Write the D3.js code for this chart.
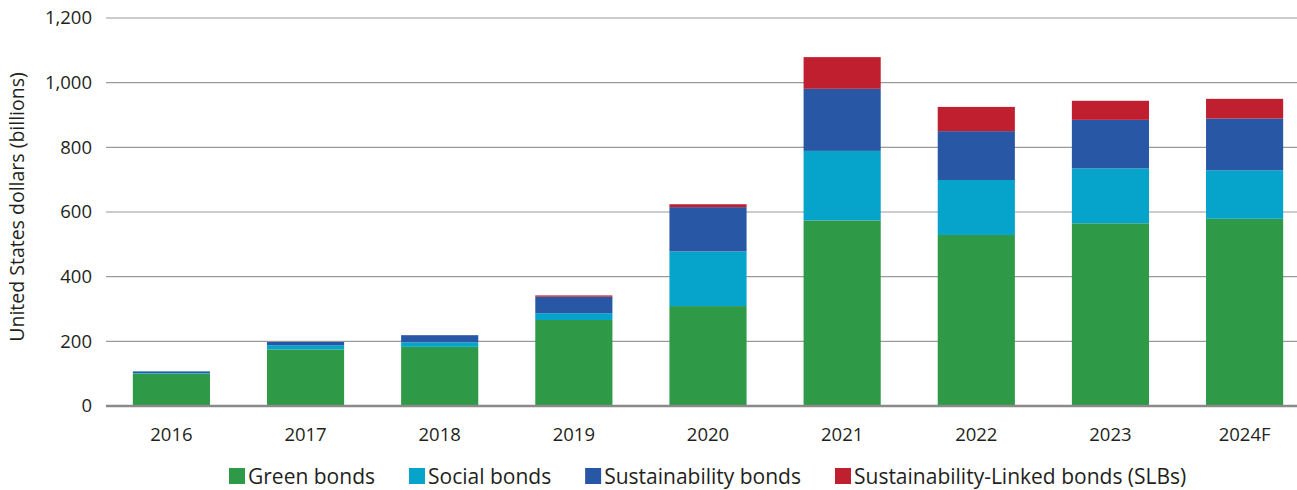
<!DOCTYPE html>
<html>
<head>
<meta charset="utf-8">
<script src="https://cdn.jsdelivr.net/npm/d3@7"></script>
<style>
  body { margin: 0; background: #fff; }
  svg { display: block; font-family: "Open Sans", "Noto Sans", sans-serif; }
</style>
</head>
<body>
<div id="chart"></div>
<script>
// values, billions of USD
const years = ["2016", "2017", "2018", "2019", "2020", "2021", "2022", "2023", "2024F"];
const green = [100, 175, 183, 266, 309, 574, 529, 565, 579];
const social = [2, 13, 14, 21, 169, 215, 170, 170, 150];
const sustainability = [5, 10, 22, 51, 137, 192, 151, 150, 160];
const slb = [0, 0, 0, 4, 9, 98, 75, 59, 61];
const yTicks = [0, 200, 400, 600, 800, 1000, 1200];

const seriesNames = ["Green bonds", "Social bonds", "Sustainability bonds", "Sustainability-Linked bonds (SLBs)"];
const colors = ["#2e9946", "#06a3cb", "#2857a5", "#c01f30"];

const W = 1297, H = 490;
const plotLeft = 106, plotRight = 1297, plotTop = 18, plotBottom = 406;

const rows = years.map((y, i) => ({
  year: y,
  "Green bonds": green[i],
  "Social bonds": social[i],
  "Sustainability bonds": sustainability[i],
  "Sustainability-Linked bonds (SLBs)": slb[i]
}));

const stacked = d3.stack().keys(seriesNames)(rows);

const svg = d3.select("#chart").append("svg")
  .attr("width", W)
  .attr("height", H);

const x = d3.scaleBand()
  .domain(years)
  .range([plotLeft, 1310])
  .paddingInner(0.425)
  .paddingOuter(0.2);

const y = d3.scaleLinear()
  .domain([0, 1200])
  .range([plotBottom, plotTop]);

// gridlines
svg.append("g")
  .selectAll("line")
  .data(yTicks.filter(d => d > 0))
  .join("line")
    .attr("x1", plotLeft)
    .attr("x2", plotRight)
    .attr("y1", d => y(d))
    .attr("y2", d => y(d))
    .attr("stroke", "#9a9a9a")
    .attr("stroke-width", 1.2);

// y tick labels
svg.append("g")
  .attr("font-size", 18.5)
  .attr("fill", "#231f20")
  .attr("text-anchor", "end")
  .selectAll("text")
  .data(yTicks)
  .join("text")
    .attr("x", 92)
    .attr("y", d => y(d))
    .attr("dy", "0.35em")
    .text(d => d3.format(",")(d));

// y title
svg.append("text")
  .attr("transform", `translate(24, ${(plotTop + plotBottom) / 2 - 5}) rotate(-90)`)
  .attr("text-anchor", "middle")
  .attr("font-size", 19.5)
  .attr("fill", "#231f20")
  .text("United States dollars (billions)");

// bars
svg.append("g")
  .selectAll("g")
  .data(stacked)
  .join("g")
    .attr("fill", (d, i) => colors[i])
  .selectAll("rect")
  .data(d => d)
  .join("rect")
    .attr("x", d => x(d.data.year))
    .attr("width", x.bandwidth())
    .attr("y", d => y(d[1]))
    .attr("height", d => y(d[0]) - y(d[1]));

// baseline
svg.append("line")
  .attr("x1", plotLeft)
  .attr("x2", plotRight)
  .attr("y1", y(0))
  .attr("y2", y(0))
  .attr("stroke", "#8a8a8a")
  .attr("stroke-width", 2.5);

// x labels
svg.append("g")
  .attr("font-size", 18.5)
  .attr("fill", "#231f20")
  .attr("text-anchor", "middle")
  .selectAll("text")
  .data(years)
  .join("text")
    .attr("x", d => x(d) + x.bandwidth() / 2)
    .attr("y", 441)
    .text(d => d);

// legend
const legend = svg.append("g").attr("font-size", 21).attr("fill", "#231f20");
const items = legend.selectAll("g")
  .data(seriesNames)
  .join("g");
items.append("rect")
  .attr("width", 16)
  .attr("height", 16)
  .attr("y", 468)
  .attr("fill", (d, i) => colors[i]);
items.append("text")
  .attr("x", 19)
  .attr("y", 484)
  .text(d => d);

const gap = 34;
const widths = [];
items.each(function() { widths.push(this.getBBox().width); });
let cx = 229;
items.attr("transform", (d, i) => {
  const t = `translate(${cx},0)`;
  cx += widths[i] + gap;
  return t;
});
</script>
</body>
</html>
